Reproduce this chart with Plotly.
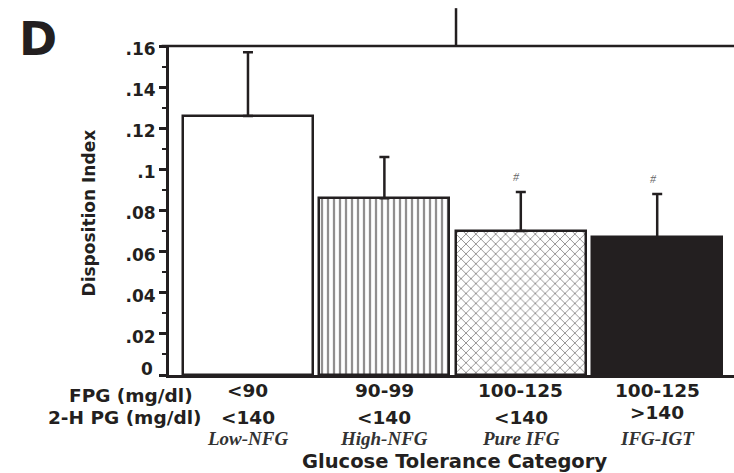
import plotly.graph_objects as go

# Disposition index by glucose tolerance category
groups = ["Low-NFG", "High-NFG", "Pure IFG", "IFG-IGT"]
fpg_labels = ["&lt;90", "90-99", "100-125", "100-125"]
pg2h_labels = ["&lt;140", "&lt;140", "&lt;140", "&gt;140"]
means = [0.126, 0.086, 0.070, 0.067]
se = [0.031, 0.020, 0.019, 0.021]
sig_marks = ["", "", "#", "#"]

tick_vals = [0, 0.02, 0.04, 0.06, 0.08, 0.10, 0.12, 0.14, 0.16]
tick_text = ["0", ".02", ".04", ".06", ".08", ".1", ".12", ".14", ".16"]

SANS = "DejaVu Sans"
SERIF = "Liberation Serif"
INK = "#231f20"

x_pos = list(range(len(groups)))

fill_styles = [
    dict(color="white", pattern=dict(shape="")),
    dict(color="white", pattern=dict(shape="|", fgcolor=INK, bgcolor="white", size=6, solidity=0.38)),
    dict(color="white", pattern=dict(shape="x", fgcolor=INK, bgcolor="white", size=7, solidity=0.25)),
    dict(color=INK, pattern=dict(shape="")),
]

fig = go.Figure()
for i in x_pos:
    fig.add_trace(go.Bar(
        x=[x_pos[i]], y=[means[i]], width=0.953,
        marker=dict(color=fill_styles[i]["color"], pattern=fill_styles[i]["pattern"],
                    line=dict(color=INK, width=2.5)),
        error_y=dict(type="data", symmetric=False, array=[se[i]], arrayminus=[0],
                     color=INK, thickness=2.5, width=5),
        showlegend=False, hoverinfo="skip",
    ))

annotations = []
# significance marks above error bars
for i in x_pos:
    if sig_marks[i]:
        annotations.append(dict(x=x_pos[i] - 0.03, y=means[i] + se[i], xref="x", yref="y",
                                text="<i>" + sig_marks[i] + "</i>", showarrow=False, yshift=15,
                                font=dict(family=SERIF, size=12, color="#666"),
                                xanchor="center", yanchor="middle"))

# the zero label sits just above the category rows, so it is placed by hand
annotations.append(dict(x=-0.0248, y=tick_vals[0], xref="paper", yref="y", text=tick_text[0],
                        showarrow=False, xanchor="right", yanchor="bottom", yshift=-6,
                        font=dict(family=SANS, size=17, color=INK, weight="bold")))
axis_ticktext = [""] + tick_text[1:]

# category rows below the axis (paper units; plot height is 329 px)
ROW1_LABEL, ROW1 = -0.0638, -0.0486
ROW2, ROW2_HIGH, ROW3 = -0.1292, -0.1155, -0.1945
TITLE_Y = -0.2629
ROW_FONT = 18.5
for i in x_pos:
    annotations.append(dict(x=x_pos[i], y=ROW1, xref="x", yref="paper", text=fpg_labels[i],
                            showarrow=False, xanchor="center", yanchor="middle",
                            font=dict(family=SANS, size=ROW_FONT, color=INK, weight="bold")))
    y2 = ROW2_HIGH if pg2h_labels[i].startswith("&gt;") else ROW2
    annotations.append(dict(x=x_pos[i], y=y2, xref="x", yref="paper", text=pg2h_labels[i],
                            showarrow=False, xanchor="center", yanchor="middle",
                            font=dict(family=SANS, size=ROW_FONT, color=INK, weight="bold")))
    annotations.append(dict(x=x_pos[i], y=ROW3, xref="x", yref="paper",
                            text="<i>" + groups[i] + "</i>",
                            showarrow=False, xanchor="center", yanchor="middle",
                            font=dict(family=SERIF, size=19, color="#333", weight="bold")))

annotations += [
    dict(x=0.046, y=ROW1_LABEL, xref="paper", yref="paper", text="FPG (mg/dl)", showarrow=False,
         xanchor="right", yanchor="middle",
         font=dict(family=SANS, size=ROW_FONT, color=INK, weight="bold")),
    dict(x=0.060, y=ROW2, xref="paper", yref="paper", text="2-H PG (mg/dl)", showarrow=False,
         xanchor="right", yanchor="middle",
         font=dict(family=SANS, size=ROW_FONT, color=INK, weight="bold")),
    dict(x=0.505, y=TITLE_Y, xref="paper", yref="paper", text="Glucose Tolerance Category",
         showarrow=False, xanchor="center", yanchor="middle",
         font=dict(family=SANS, size=19.5, color=INK, weight="bold")),
    dict(x=-0.141, y=0.492, xref="paper", yref="paper", text="Disposition Index", textangle=-90,
         showarrow=False, xanchor="center", yanchor="middle",
         font=dict(family=SANS, size=17, color=INK, weight="bold")),
    dict(x=-0.232, y=1.02, xref="paper", yref="paper", text="D", showarrow=False,
         xanchor="center", yanchor="middle",
         font=dict(family=SANS, size=46, color=INK, weight="bold")),
]

shapes = [
    # frame line across the top of the panel
    dict(type="line", xref="paper", yref="paper", x0=-0.013, x1=1.0, y0=1.0, y1=1.0,
         line=dict(color=INK, width=2.5)),
    # divider rising from the top line
    dict(type="line", xref="paper", yref="paper", x0=0.508, x1=0.508, y0=1.0, y1=1.115,
         line=dict(color=INK, width=2.5)),
]

fig.update_layout(
    width=734, height=473,
    margin=dict(l=169, r=0, t=46, b=98),
    paper_bgcolor="white", plot_bgcolor="white",
    bargap=0, barmode="overlay",
    annotations=annotations, shapes=shapes,
    xaxis=dict(range=[-0.579, 3.563], showticklabels=False, ticks="", showgrid=False,
               zeroline=False, showline=True, linecolor=INK, linewidth=3, fixedrange=True),
    yaxis=dict(range=[0, 0.16], tickvals=tick_vals, ticktext=axis_ticktext, ticks="outside",
               ticklen=7, tickwidth=2.5, tickcolor=INK, showgrid=False, zeroline=False,
               showline=True, linecolor=INK, linewidth=3, ticklabelshift=3,
               tickfont=dict(family=SANS, size=17, color=INK, weight="bold"),
               minor=dict(tickvals=[0.01, 0.03, 0.05, 0.07, 0.09, 0.11, 0.13, 0.15],
                          ticks="outside", ticklen=4, tickwidth=2, tickcolor=INK),
               fixedrange=True),
)

fig.write_html("out.html")
